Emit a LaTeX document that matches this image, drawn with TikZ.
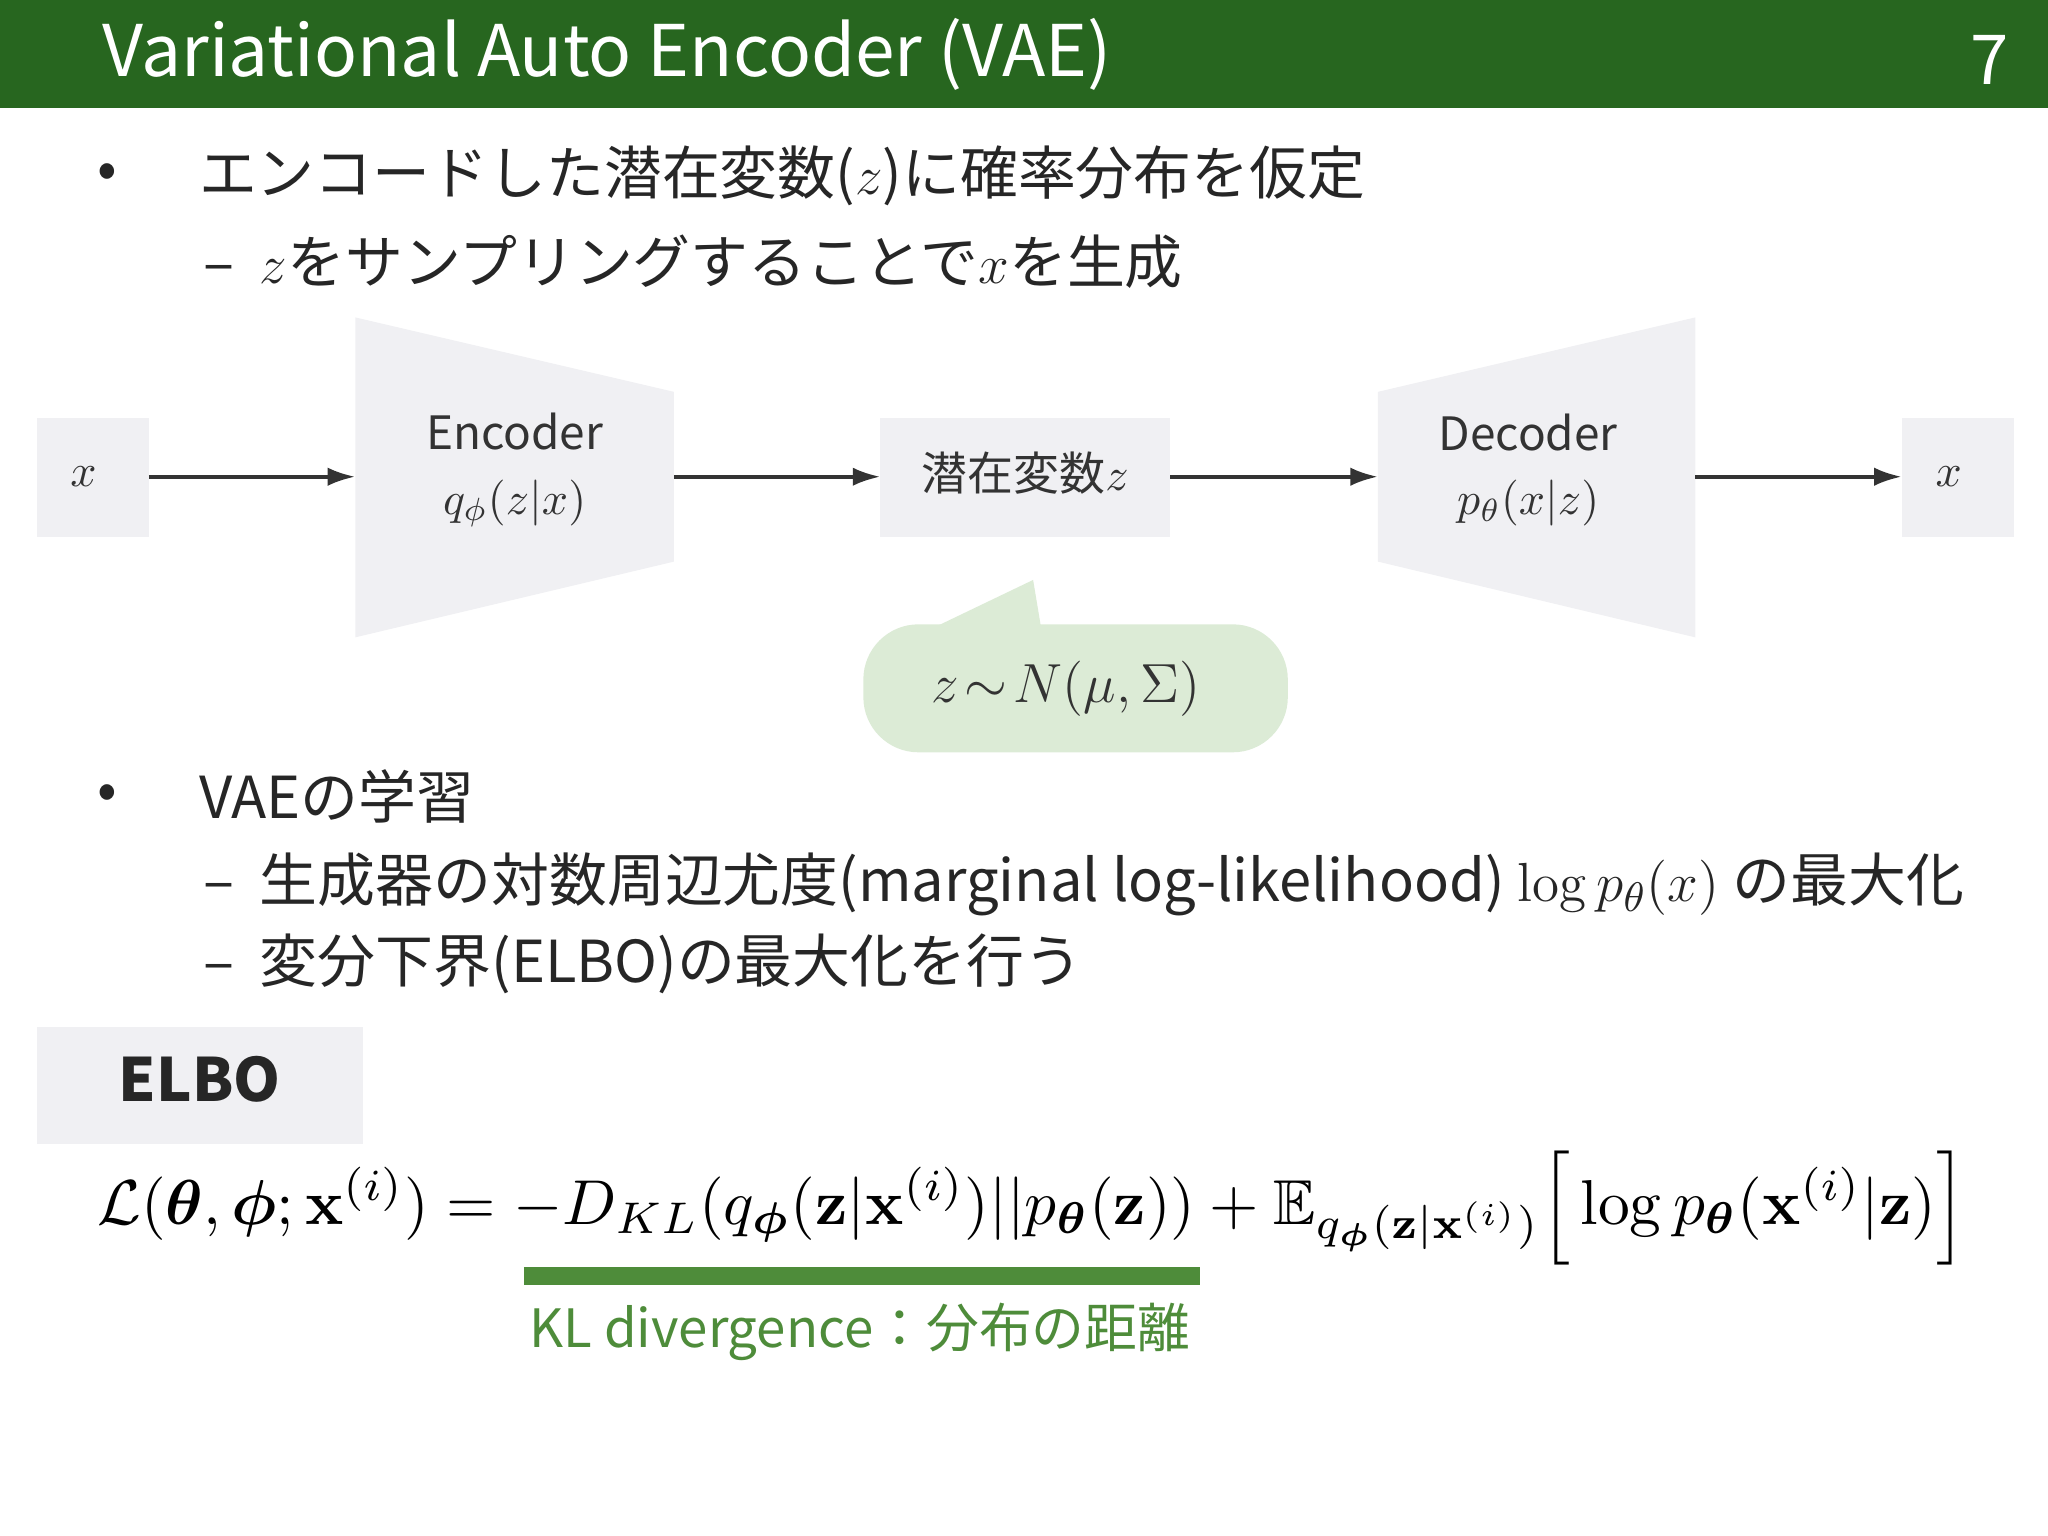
\documentclass[tikz,border=0pt]{standalone}
\usepackage{amsmath,amssymb,bm}
\usepackage[no-math]{fontspec}
\setmainfont{Noto Sans CJK JP}
\definecolor{hdr}{HTML}{27661F}
\definecolor{boxg}{HTML}{F0F0F3}
\definecolor{callg}{HTML}{DCEBD6}
\definecolor{kl}{HTML}{4E8C3A}
\usetikzlibrary{arrows.meta}
\tikzset{gbox/.style={fill=boxg,draw=none},
 arr/.style={-{Latex[length=6pt,width=4pt]},line width=0.8pt,black!80},
 bt/.style={anchor=west,font=\fontsize{12.6}{15}\selectfont,text=black!85},
 mt/.style={font=\fontsize{10}{12}\selectfont,text=black!80,align=center}}
\begin{document}
\begin{tikzpicture}[x=0.01cm,y=-0.01cm]
\useasboundingbox (0,0) rectangle (1568,1176);
\fill[hdr] (0,0) rectangle (1568,83);
\node[anchor=west,text=white,font=\fontsize{15.5}{17}\selectfont] (title) at (66,42) {Variational Auto Encoder (VAE)};
\node[anchor=east,text=white,font=\fontsize{15}{17}\selectfont] (pg) at (1550,46) {7};
\node[bt] (b1) at (62,135) {•};
\node[bt] (t1) at (140,135) {エンコードした潜在変数($z$)に確率分布を仮定};
\node[bt] (b1a) at (143,200) {–\ \ $z$をサンプリングすることで$x$を生成};
% diagram
\fill[gbox] (28,320) rectangle (114,411);
\node[mt] (xin) at (64,365) {$x$};
\fill[gbox] (272,243) -- (516,300) -- (516,430) -- (272,488) -- cycle;
\coordinate (encL) at (272,365); \coordinate (encR) at (516,365);
\node[mt] (enc) at (394,360) {Encoder\\[2pt]$q_\phi(z|x)$};
\fill[gbox] (674,320) rectangle (896,411);
\node[mt] (lat) at (785,362) {潜在変数$z$};
\coordinate (latL) at (674,365); \coordinate (latR) at (896,365);
\fill[gbox] (1055,300) -- (1298,243) -- (1298,488) -- (1055,430) -- cycle;
\coordinate (decL) at (1055,365); \coordinate (decR) at (1298,365);
\node[mt] (dec) at (1170,360) {Decoder\\[2pt]$p_\theta(x|z)$};
\fill[gbox] (1456,320) rectangle (1542,411);
\node[mt] (xout) at (1492,365) {$x$};
\coordinate (xinR) at (114,365); \coordinate (xoutL) at (1456,365);
\draw[arr] (xinR) -- (encL);
\draw[arr] (encR) -- (latL);
\draw[arr] (latR) -- (decL);
\draw[arr] (decR) -- (xoutL);
\fill[callg,rounded corners=12pt] (661,478) rectangle (986,576);
\fill[callg] (716,480) -- (791,444) -- (797,480) -- cycle;
\node[mt,font=\fontsize{13}{15}\selectfont] (call) at (816,527) {$z\!\sim\! N(\mu,\Sigma)$};
\node[bt] (b2) at (62,610) {•};
\node[bt] (t2) at (140,610) {VAEの学習};
\node[bt] (s1) at (143,677) {–\ \ 生成器の対数周辺尤度(marginal log-likelihood) $\log p_\theta(x)$ の最大化};
\node[bt] (s2) at (143,738) {–\ \ 変分下界(ELBO)の最大化を行う};
\fill[gbox] (28,786) rectangle (278,876);
\node[font=\fontsize{13}{15}\selectfont\bfseries,text=black!85] (elbo) at (153,826) {ELBO};
\node (eq) at (790,925) {\resizebox{14.3cm}{!}{$\mathcal{L}(\bm\theta,\bm\phi;\mathbf{x}^{(i)})=-D_{KL}(q_{\bm\phi}(\mathbf{z}|\mathbf{x}^{(i)})||p_{\bm\theta}(\mathbf{z}))+\mathbb{E}_{q_{\bm\phi}(\mathbf{z}|\mathbf{x}^{(i)})}\Big[\log p_{\bm\theta}(\mathbf{x}^{(i)}|\mathbf{z})\Big]$}};
\coordinate (klA) at (401,977); \coordinate (klB) at (919,977);
\draw[kl,line width=4pt] (klA) -- (klB);
\node[anchor=west,text=kl,font=\fontsize{11.5}{14}\selectfont] (klt) at (393,1020) {KL divergence：分布の距離};
\end{tikzpicture}
\end{document}
